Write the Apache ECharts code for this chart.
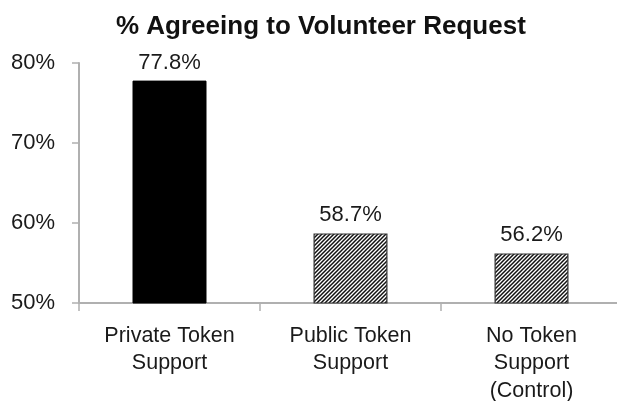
<!DOCTYPE html>
<html><head><meta charset="utf-8">
<script src="https://cdn.jsdelivr.net/npm/echarts@6/dist/echarts.min.js"></script>
<style>html,body{margin:0;padding:0;background:#fff}#c{width:617px;height:401px}</style>
</head><body><div id="c"></div>
<script>
var categories = ['Private Token\nSupport', 'Public Token\nSupport', 'No Token\nSupport\n(Control)'];
var values = [77.8, 58.7, 56.2];
var yTicks = [50, 60, 70, 80];
var titleText = '% Agreeing to Volunteer Request';

function hatch() {
  var s = 4;
  var cv = document.createElement('canvas');
  cv.width = s; cv.height = s;
  var g = cv.getContext('2d');
  g.fillStyle = '#ffffff'; g.fillRect(0, 0, s, s);
  g.strokeStyle = '#111'; g.lineWidth = 1.5;
  g.beginPath();
  g.moveTo(0, s); g.lineTo(s, 0);
  g.moveTo(-1, 1); g.lineTo(1, -1);
  g.moveTo(s - 1, s + 1); g.lineTo(s + 1, s - 1);
  g.stroke();
  return cv;
}
var pat = hatch();
var font = '"Liberation Sans", Arial, sans-serif';
var chart = echarts.init(document.getElementById('c'));
chart.setOption({
  animation: false,
  title: { text: titleText, left: 111, top: 9,
    textStyle: { fontFamily: font, fontSize: 26, fontWeight: 'bold', color: '#111' } },
  grid: { left: 79, right: -5, top: 63, bottom: 98, containLabel: false, outerBoundsMode: 'none' },
  xAxis: { type: 'category', data: categories,
    axisLine: { lineStyle: { color: '#b0b0b0', width: 2 } },
    axisTick: { show: true, length: 8, lineStyle: { color: '#b0b0b0', width: 1.5 } },
    axisLabel: { fontFamily: font, fontSize: 21.5, color: '#1a1a1a', lineHeight: 27.5, margin: 19, interval: 0 } },
  yAxis: { type: 'value', min: yTicks[0], max: yTicks[yTicks.length - 1], interval: 10,
    splitLine: { show: false },
    axisLine: { show: true, lineStyle: { color: '#b0b0b0', width: 2 } },
    axisTick: { show: true, length: 7, lineStyle: { color: '#b0b0b0', width: 1.5 } },
    axisLabel: { fontFamily: font, fontSize: 22, color: '#1a1a1a', margin: 24, formatter: '{value}%' } },
  series: [{ type: 'bar', barWidth: 74,
    data: values.map(function (v, i) {
      return { value: v, itemStyle: i === 0 ? { color: '#000', borderColor: '#000', borderWidth: 1 }
        : { color: { image: pat, repeat: 'repeat' }, borderColor: '#333', borderWidth: 1.2 } };
    }),
    label: { show: true, position: 'top', distance: 7, fontFamily: font, fontSize: 22, color: '#1a1a1a',
      formatter: function (p) { return p.value.toFixed(1) + '%'; } } }]
});
</script></body></html>
